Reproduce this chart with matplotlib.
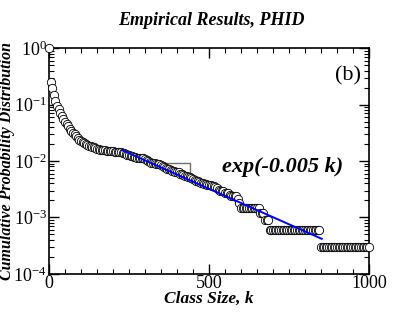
import numpy as np
import matplotlib
matplotlib.use("Agg")
import matplotlib.pyplot as plt
from matplotlib.ticker import LogLocator, MultipleLocator, FixedLocator, NullFormatter

plt.rcParams['font.family'] = ['Liberation Serif', 'DejaVu Serif']
plt.rcParams['mathtext.fontset'] = 'custom'
plt.rcParams['mathtext.rm'] = 'Liberation Serif'
plt.rcParams['mathtext.it'] = 'Liberation Serif:italic'
plt.rcParams['mathtext.bf'] = 'Liberation Serif:bold'

# Class sizes (k) and cumulative probability P(K >= k)
class_size = [0] + list(range(5, 1001, 5))
cum_prob = [
    1.0, 0.25, 0.195, 0.145, 0.115, 0.095, 0.083, 0.072, 0.063, 0.055,
    0.049, 0.045, 0.041, 0.037, 0.034, 0.032, 0.0295, 0.0275, 0.0257, 0.024,
    0.0229, 0.0219, 0.0209, 0.0200, 0.0195, 0.0186, 0.0182, 0.0178, 0.0174, 0.0170,
    0.0166, 0.0162, 0.0158, 0.0157, 0.0155, 0.0154, 0.0152, 0.0151, 0.0150, 0.0149,
    0.0148, 0.0147, 0.0146, 0.0145, 0.0144, 0.0142, 0.0139, 0.0136, 0.0133, 0.0130,
    0.0127, 0.0124, 0.0121, 0.0119, 0.0117, 0.0115, 0.0114, 0.0113, 0.0112, 0.0111,
    0.0109, 0.0105, 0.0101, 0.0097, 0.0094, 0.0092, 0.0091, 0.0090, 0.0089, 0.0087,
    0.0085, 0.0082, 0.0079, 0.0076, 0.0073, 0.0071, 0.0069, 0.0067, 0.0066, 0.0065,
    0.0064, 0.0063, 0.0060, 0.0058, 0.0056, 0.0055, 0.0054, 0.0053, 0.0052, 0.0051,
    0.0049, 0.0047, 0.0045, 0.0044, 0.0042, 0.0041, 0.0040, 0.0039, 0.0039, 0.0038,
    0.0038, 0.0037, 0.0036, 0.0036, 0.0035, 0.0033, 0.0031, 0.0030, 0.0030, 0.0029,
    0.0027, 0.0027, 0.0027, 0.0025, 0.0024, 0.0024, 0.0024, 0.0024, 0.0021, 0.0018,
    0.0015, 0.0015, 0.0015, 0.0015, 0.0015, 0.0015, 0.0015, 0.0015, 0.0015, 0.0015,
    0.0015, 0.0015, 0.0012, 0.0012, 0.0012, 0.00091, 0.00091, 0.00091,
    0.00061, 0.00061, 0.00061, 0.00061, 0.00061, 0.00061, 0.00061, 0.00061,
    0.00061, 0.00061, 0.00061, 0.00061, 0.00061, 0.00061, 0.00061, 0.00061,
    0.00061, 0.00061, 0.00061, 0.00061, 0.00061, 0.00061, 0.00061, 0.00061,
    0.00061, 0.00061, 0.00061, 0.00061, 0.00061, 0.00061, 0.00061, 0.00061,
    0.0003, 0.0003, 0.0003, 0.0003, 0.0003, 0.0003, 0.0003, 0.0003,
    0.0003, 0.0003, 0.0003, 0.0003, 0.0003, 0.0003, 0.0003, 0.0003,
    0.0003, 0.0003, 0.0003, 0.0003, 0.0003, 0.0003, 0.0003, 0.0003,
    0.0003, 0.0003, 0.0003, 0.0003, 0.0003, 0.0003, 0.0003,
]
n = min(len(class_size), len(cum_prob))
class_size = class_size[:n]
cum_prob = cum_prob[:n]

# Exponential fit line
fit_k = [227, 852]
fit_amp = 0.0586
fit_rate = 0.0058

# Gray step segment
step_k = [336, 442, 442]
step_p = [0.0091, 0.0091, 0.0056]

fig = plt.figure(figsize=(4.18, 3.23), dpi=100)
ax = fig.add_axes([0.117, 0.152, 0.766, 0.699])

ax.plot(step_k, step_p, color='#707070', lw=1.0, zorder=2)
ax.plot(class_size, cum_prob, linestyle='none', marker='o', markersize=6,
        markerfacecolor='white', markeredgecolor='black', markeredgewidth=0.6,
        clip_on=False, zorder=3)
fk = np.array(fit_k, dtype=float)
ax.plot(fk, fit_amp * np.exp(-fit_rate * fk), color='#0000ff', lw=1.4, zorder=4)

ax.set_yscale('log')
ax.set_xlim(0, 1000)
ax.set_ylim(1e-4, 1)
ax.xaxis.set_major_locator(FixedLocator([0, 500, 1000]))
ax.xaxis.set_minor_locator(MultipleLocator(50))
ax.yaxis.set_major_locator(LogLocator(base=10, numticks=10))
ax.yaxis.set_minor_locator(LogLocator(base=10, subs=np.arange(2, 10), numticks=10))
ax.yaxis.set_minor_formatter(NullFormatter())

ax.tick_params(which='both', direction='in', top=True, right=True, labelsize=13)
ax.tick_params(axis='x', pad=1)
ax.tick_params(axis='y', pad=1.5)
ax.tick_params(which='major', length=7, width=1.0)
ax.tick_params(which='minor', length=3.5, width=0.8)
for s in ax.spines.values():
    s.set_linewidth(1.2)

ax.text(0.975, 0.875, '(b)', transform=ax.transAxes, ha='right', va='center', fontsize=16)
ax.text(0.73, 0.475, 'exp(-0.005 k)', transform=ax.transAxes, ha='center', va='center',
        fontsize=16, fontweight='bold', fontstyle='italic')

fig.text(0.505, 0.935, 'Empirical Results, PHID', ha='center', va='center',
         fontsize=13, fontweight='bold', fontstyle='italic')
ax.set_xlabel('Class Size, k', fontsize=12.5, fontweight='bold', fontstyle='italic', va='center')
ax.xaxis.set_label_coords(0.5, -0.112)
ax.set_ylabel('Cumulative Probability Distribution', fontsize=11.5, fontweight='bold',
              fontstyle='italic', va='center')
ax.yaxis.set_label_coords(-0.131, 0.5)

fig.savefig('out.png', dpi=100)
